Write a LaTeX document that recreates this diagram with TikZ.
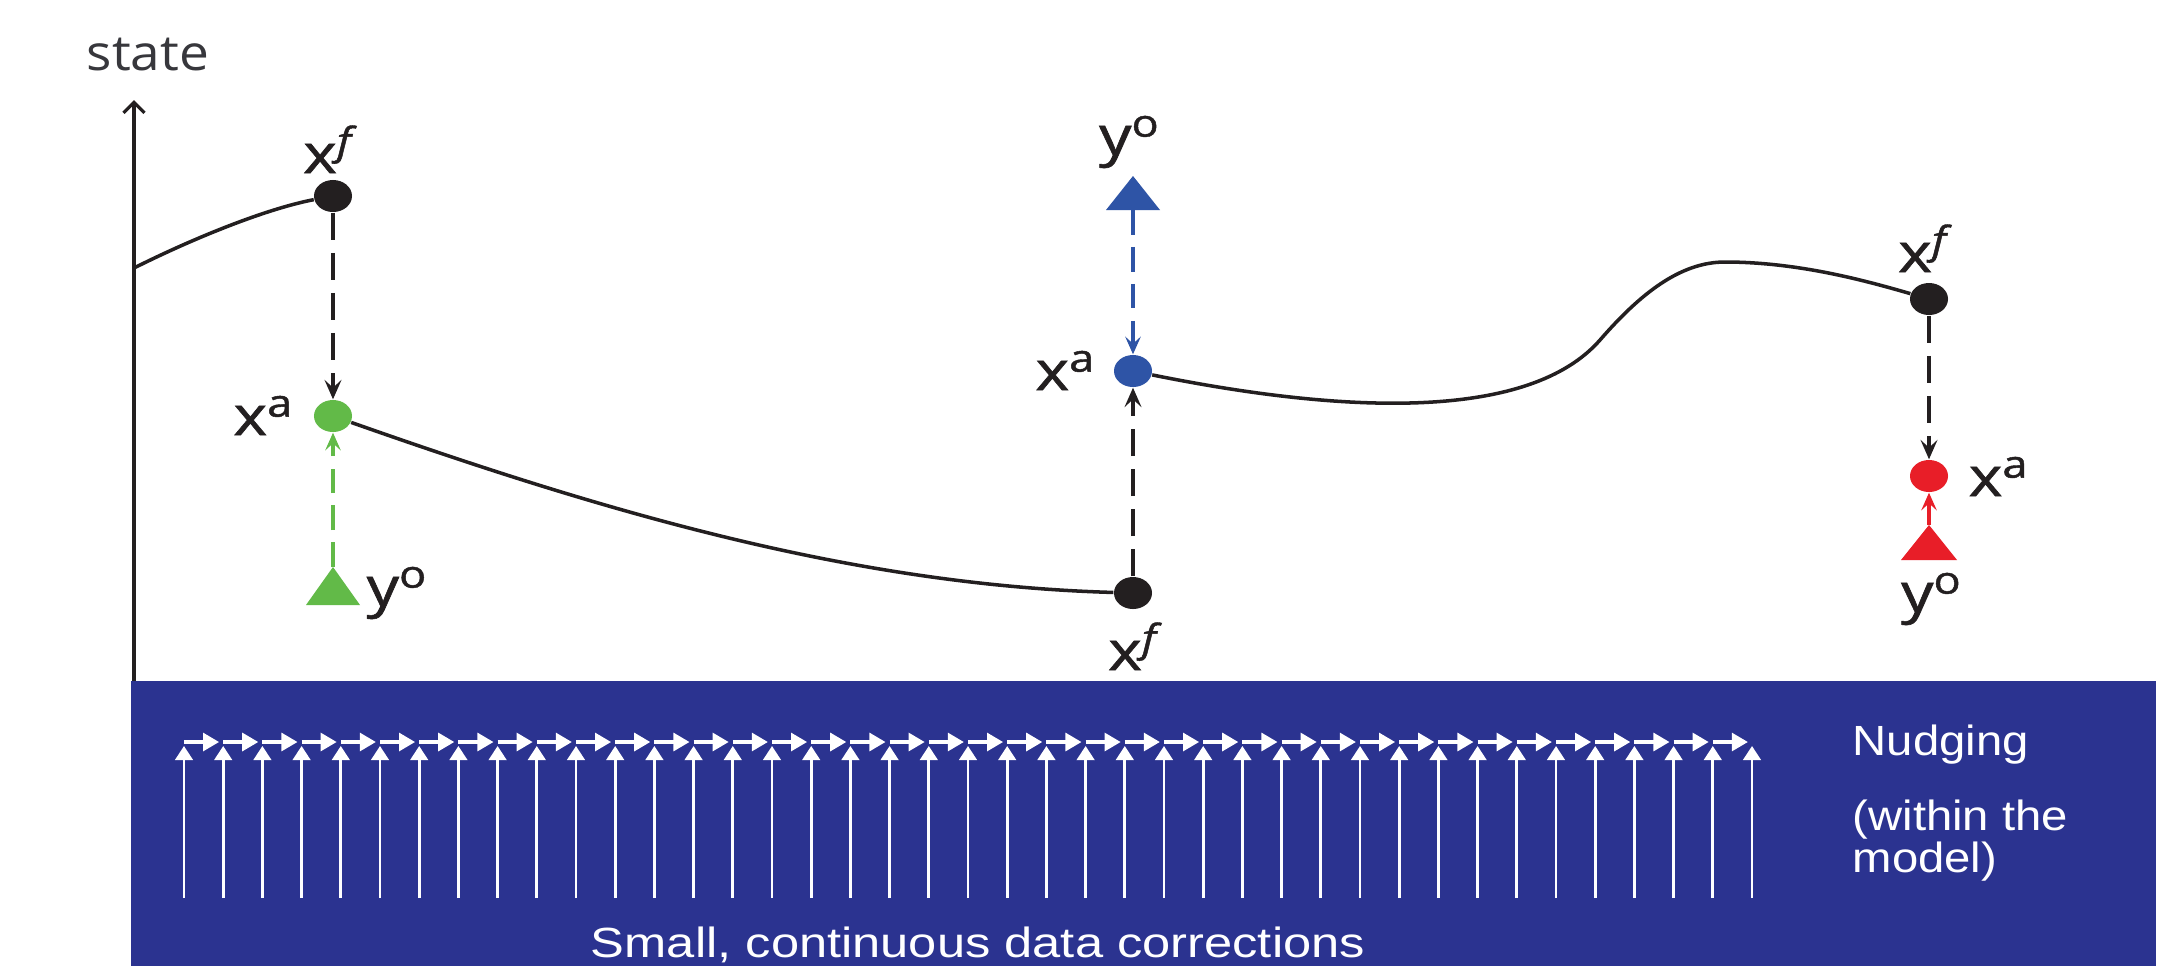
\documentclass[tikz,border=0pt]{standalone}
\usepackage{fontspec}
\setmainfont{Open Sans}
\newfontfamily\labfont[FakeBold=1.1]{Open Sans}
\newfontfamily\bandfont{Liberation Sans}
\usetikzlibrary{arrows.meta,shapes.geometric}
\definecolor{bandblue}{RGB}{43,51,144}
\definecolor{obsgreen}{RGB}{98,186,72}
\definecolor{obsblue}{RGB}{46,84,166}
\definecolor{obsred}{RGB}{232,30,40}
\definecolor{ink}{RGB}{35,31,32}
\definecolor{axislabel}{RGB}{55,55,60}
% horizontally widened text
\newcommand\wide[1]{\scalebox{1.18}[1]{#1}}
\newcommand\bandwide[1]{\scalebox{1.2}[1]{#1}}
\newcommand\sym[2]{\wide{#1\textsuperscript{#2}}}
\begin{document}
\begin{tikzpicture}[x=0.01cm, y=-0.01cm,
  lab/.style={inner sep=0pt, text=ink, font=\labfont\fontsize{15.5pt}{18pt}\selectfont},
  bandtxt/.style={inner sep=0pt, text=white, font=\bandfont\fontsize{12pt}{14pt}\selectfont},
  stdot/.style={ellipse, inner sep=0pt, minimum width=0.38cm, minimum height=0.32cm},
  trail/.style={line width=1pt, ink},
  axisline/.style={line width=0.95pt, ink, -{Straight Barb[length=3pt,width=6pt]}},
  dashk/.style={line width=1.3pt, ink, dash pattern=on 7.7pt off 3.7pt,
                -{Stealth[length=5.5pt,width=4.8pt,inset=2.2pt]}},
  dashc/.style={line width=1.05pt, dash pattern=on 7pt off 3.5pt,
                -{Stealth[length=5pt,width=4.4pt,inset=2pt]}},
  vstem/.style={white, line width=0.75pt, -{Triangle[length=4pt,width=5pt]}},
  hlink/.style={white, line width=1.3pt, -{Triangle[length=4.6pt,width=5pt]}}
]
\fill[white] (0,0) rectangle (2172,966);
\useasboundingbox (0,0) rectangle (2172,966);

% model band
\fill[bandblue] (131,681) rectangle (2156,966);
\foreach \i in {0,...,40}{
  \draw[vstem] ({184+39.2*\i},898) -- ({184+39.2*\i},746);
}
\foreach \i in {0,...,39}{
  \draw[hlink] ({184+39.2*\i},742) -- ({184+39.2*(\i+1)-4},742);
}
\node[bandtxt, anchor=base] (corr) at (978,957) {\bandwide{Small, continuous data corrections}};
\node[bandtxt, anchor=base west] (nud1) at (1852,755) {\scalebox{1.12}[1]{Nudging}};
\node[bandtxt, anchor=base west] (nud2) at (1852,830) {\scalebox{1.12}[1]{(within the}};
\node[bandtxt, anchor=base west] (nud3) at (1852,872) {\scalebox{1.12}[1]{model)}};

% state axis
\coordinate (axbot) at (134,681);
\coordinate (axtop) at (134,100);
\draw[axisline] (axbot) -- (axtop);
\node[inner sep=0pt, text=axislabel, font=\fontsize{14pt}{16pt}\selectfont, anchor=base]
  (state) at (148,70) {\scalebox{1.08}[1]{state}};
\coordinate (start) at (134,268);

% points of the trajectory
\node[stdot, fill=ink] (xf1) at (333,196) {};
\node[stdot, fill=obsgreen] (xa1) at (333,416) {};
\node[stdot, fill=ink] (xf2) at (1133,593) {};
\node[stdot, fill=obsblue] (xa2) at (1133,371) {};
\node[stdot, fill=ink] (xf3) at (1929,299) {};
\node[stdot, fill=obsred] (xa3) at (1929,476) {};

% observations
\fill[obsgreen] (333,567) -- (360,605) -- (306,605) -- cycle;
\coordinate (yo1) at (333,567);
\fill[obsblue] (1133,176) -- (1160,210) -- (1106,210) -- cycle;
\coordinate (yo2) at (1133,210);
\fill[obsred] (1929,525) -- (1957,560) -- (1901,560) -- cycle;
\coordinate (yo3) at (1929,525);

% model trajectory
\draw[trail] (start) .. controls (200,235) and (270,208) .. (xf1);
\draw[trail] (xa1) .. controls (600,510) and (850,585) .. (xf2);
\draw[trail] (xa2) .. controls (1350,415) and (1530,420) .. (1600,340)
                   .. controls (1640,294) and (1680,262) .. (1725,262)
                   .. controls (1800,262) and (1870,282) .. (xf3);

% analysis increments
\draw[dashk] (xf1) -- (xa1);
\draw[dashc, obsgreen] (yo1) -- (xa1);
\draw[dashk] (xf2) -- (xa2);
\draw[dashc, obsblue] (yo2) -- (xa2);
\draw[dashk] (xf3) -- (xa3);
\draw[line width=1.05pt, obsred, -{Stealth[length=5pt,width=4.4pt,inset=2pt]}] (yo3) -- (xa3);

% labels
\node[lab, anchor=base] (lxf1) at (331,173) {\sym{x}{\textit{f}}};
\node[lab, anchor=base east] (lxa1) at (295,435) {\sym{x}{a}};
\node[lab, anchor=base west] (lyo1) at (366,606) {\sym{y}{o}};
\node[lab, anchor=base] (lxf2) at (1136,670) {\sym{x}{\textit{f}}};
\node[lab, anchor=base east] (lxa2) at (1097,390) {\sym{x}{a}};
\node[lab, anchor=base] (lyo2) at (1130,155) {\sym{y}{o}};
\node[lab, anchor=base] (lxf3) at (1926,272) {\sym{x}{\textit{f}}};
\node[lab, anchor=base west] (lxa3) at (1968,496) {\sym{x}{a}};
\node[lab, anchor=base] (lyo3) at (1932,612) {\sym{y}{o}};
\end{tikzpicture}
\end{document}
